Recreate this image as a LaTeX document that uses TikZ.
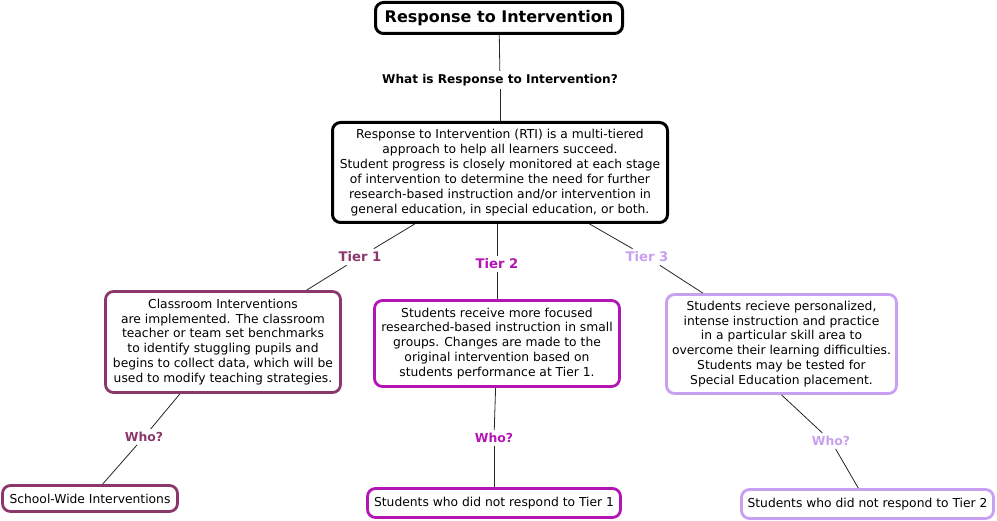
\documentclass[tikz,border=0pt]{standalone}
\usepackage{fontspec}
\setmainfont{DejaVu Sans}
\definecolor{TierOneClr}{RGB}{139,55,107}
\definecolor{TierTwoClr}{RGB}{180,20,180}
\definecolor{TierThreeClr}{RGB}{200,160,240}

\begin{document}
\begin{tikzpicture}[x=1pt,y=-1pt,
  box/.style={draw,line width=2.8pt,rounded corners=8pt,fill=white,align=center,
    font=\fontsize{12.3}{14.9}\selectfont,inner sep=2pt},
  lab/.style={font=\bfseries\fontsize{13.2}{15}\selectfont,inner sep=3pt},
  who/.style={font=\bfseries\fontsize{12.4}{14}\selectfont,inner sep=3pt},
  link/.style={line width=0.8pt,color=black!85}]
\useasboundingbox (0,0) rectangle (997,521);

% top of the map
\node[box,line width=3pt,font=\bfseries\fontsize{16}{18}\selectfont,
  minimum width=247pt,minimum height=31pt] (RTI) at (499,18) {Response to Intervention};
\node[lab,font=\bfseries\fontsize{12.1}{14}\selectfont] (What) at (500,80) {What is Response to Intervention?};
\node[box,line width=3pt,minimum width=335pt,minimum height=100pt] (Def) at (500,172.5)
  {Response to Intervention (RTI) is a multi-tiered\\
   approach to help all learners succeed.\\
   Student progress is closely monitored at each stage\\
   of intervention to determine the need for further\\
   research-based instruction and/or intervention in\\
   general education, in special education, or both.};

% tiers
\node[lab,text=TierOneClr] (TOne) at (360,257) {Tier 1};
\node[lab,text=TierTwoClr] (TTwo) at (497,264) {Tier 2};
\node[lab,text=TierThreeClr] (TThree) at (647,257) {Tier 3};

\node[box,draw=TierOneClr,minimum width=235pt,minimum height=101pt] (BOne) at (223,342)
  {Classroom Interventions\\
   are implemented. The classroom\\
   teacher or team set benchmarks\\
   to identify stuggling pupils and\\
   begins to collect data, which will be\\
   used to modify teaching strategies.};
\node[box,draw=TierTwoClr,minimum width=245pt,minimum height=86pt] (BTwo) at (497,343.5)
  {Students receive more focused\\
   researched-based instruction in small\\
   groups. Changes are made to the\\
   original intervention based on\\
   students performance at Tier 1.};
\node[box,draw=TierThreeClr,minimum width=230pt,minimum height=99pt] (BThree) at (781.5,344)
  {Students recieve personalized,\\
   intense instruction and practice\\
   in a particular skill area to\\
   overcome their learning difficulties.\\
   Students may be tested for\\
   Special Education placement.};

% who
\node[who,text=TierOneClr] (WOne) at (144,437) {Who?};
\node[who,text=TierTwoClr] (WTwo) at (494,438) {Who?};
\node[who,text=TierThreeClr] (WThree) at (831,441) {Who?};

\node[box,draw=TierOneClr,minimum width=175pt,minimum height=26pt] (SOne) at (90,498.5)
  {School-Wide Interventions};
\node[box,draw=TierTwoClr,minimum width=253pt,minimum height=29pt] (STwo) at (494,503)
  {Students who did not respond to Tier 1};
\node[box,draw=TierThreeClr,minimum width=252pt,minimum height=29pt] (SThree) at (867.5,504)
  {Students who did not respond to Tier 2};

% links
\draw[link] (RTI) -- (What);
\draw[link] (What) -- (Def);
\draw[link] (Def) -- (TOne);
\draw[link] (TOne) -- (BOne);
\draw[link] (Def.south -| TTwo) -- (TTwo);
\draw[link] (TTwo) -- (BTwo);
\draw[link] (Def) -- (TThree);
\draw[link] (TThree) -- (BThree);
\draw[link] (BOne) -- (WOne);
\draw[link] (WOne) -- (SOne);
\draw[link] (BTwo) -- (WTwo);
\draw[link] (WTwo) -- (STwo);
\draw[link] (BThree.south) -- (WThree);
\draw[link] (WThree) -- (SThree);

\end{tikzpicture}
\end{document}
